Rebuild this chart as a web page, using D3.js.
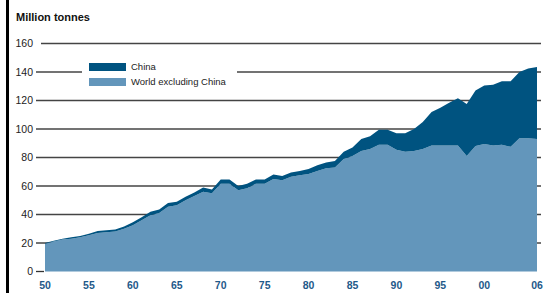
<!DOCTYPE html>
<html>
<head>
<meta charset="utf-8">
<script src="https://cdn.jsdelivr.net/npm/d3@7"></script>
<style>
  body { margin: 0; background: #fff; }
  text { font-family: "Liberation Sans", Arial, sans-serif; }
</style>
</head>
<body>
<div id="chart"></div>
<script>
// data
const years = d3.range(1950, 2007);
const world = [
  19.5, 21, 22.5, 23, 24, 25.5, 27, 27.5, 28, 30,
  32.5, 36, 39.5, 41, 45.5, 46.5, 50, 53, 56, 55,
  61.5, 61.5, 57, 58.5, 61.5, 61.5, 65, 64, 66.5, 67.5,
  68.5, 70.5, 72.5, 73, 79, 81, 84.5, 86, 89, 89,
  85.5, 84, 84.5, 86, 88.5, 88.5, 88.5, 88.5, 81, 88,
  89.5, 88.5, 89, 87.5, 93.5, 93.5, 93
];
const china = [
  0.5, 0.5, 0.5, 1, 1, 1, 1.5, 1.5, 1.5, 1.5,
  2, 2, 2.5, 2.5, 2.5, 2.5, 2.5, 2.5, 3, 2.5,
  3, 3, 3, 3, 3, 3, 3, 3, 3, 3,
  3.5, 4, 4, 4.5, 5, 6, 8.5, 9, 10.5, 10.5,
  11.5, 13, 15.5, 19, 23.5, 26.5, 30, 33, 36.5, 39,
  41, 42.5, 44.5, 46, 46.5, 49, 50.5
];
const yTicks = [0, 20, 40, 60, 80, 100, 120, 140, 160];
const xTicks = [1950, 1955, 1960, 1965, 1970, 1975, 1980, 1985, 1990, 1995, 2000, 2006];
const seriesNames = ["World excluding China", "China"];
const colors = { "China": "#005380", "World excluding China": "#6396bb" };

const W = 546, H = 293;
const svg = d3.select("#chart").append("svg")
    .attr("width", W).attr("height", H);

// left black rule
svg.append("rect").attr("x", 6).attr("y", 0).attr("width", 3).attr("height", H).attr("fill", "#000");

const x = d3.scaleLinear().domain([1950, 2006]).range([45, 537]);
const y = d3.scaleLinear().domain([0, 160]).range([271.5, 43.5]);

svg.append("text")
    .attr("x", 16).attr("y", 21)
    .style("font-size", "11px").style("font-weight", "bold")
    .attr("fill", "#111")
    .text("Million tonnes");

// gridlines (140 line broken by the legend)
const grid = svg.append("g");
yTicks.forEach(function (t) {
    if (t === 0) {
        grid.append("line").attr("x1", 36).attr("x2", 44)
            .attr("y1", y(t)).attr("y2", y(t))
            .attr("stroke", "#333").attr("stroke-width", 1.3);
    } else if (t === 140) {
        grid.append("line").attr("x1", 36).attr("x2", 82)
            .attr("y1", y(t)).attr("y2", y(t)).attr("stroke", "#444").attr("stroke-width", 1.3);
        grid.append("line").attr("x1", 237).attr("x2", 541)
            .attr("y1", y(t)).attr("y2", y(t)).attr("stroke", "#444").attr("stroke-width", 1.3);
    } else {
        grid.append("line").attr("x1", t === 160 ? 41 : 36).attr("x2", 541)
            .attr("y1", y(t)).attr("y2", y(t)).attr("stroke", "#444").attr("stroke-width", 1.3);
    }
    grid.append("text")
        .attr("x", 33).attr("y", y(t)).attr("dy", "0.36em")
        .attr("text-anchor", "end")
        .style("font-size", "10.5px")
        .attr("fill", "#222")
        .text(t);
});

// stacked areas
const data = years.map(function (yr, i) {
    return { year: yr, "World excluding China": world[i], "China": china[i] };
});
const stacked = d3.stack().keys(seriesNames)(data);
const area = d3.area()
    .x(function (d) { return x(d.data.year); })
    .y0(function (d) { return y(d[0]); })
    .y1(function (d) { return y(d[1]); });

svg.selectAll("path.layer")
    .data(stacked)
    .join("path")
    .attr("class", "layer")
    .attr("fill", function (d) { return colors[d.key]; })
    .attr("d", area);

// x labels
svg.append("g").selectAll("text")
    .data(xTicks)
    .join("text")
    .attr("x", function (d) { return x(d); })
    .attr("y", 289)
    .attr("text-anchor", "middle")
    .style("font-size", "10.5px").style("font-weight", "bold")
    .attr("fill", "#1f5a8a")
    .text(function (d) { return String(d).slice(2); });

// legend
const legend = svg.append("g");
["China", "World excluding China"].forEach(function (k, i) {
    legend.append("rect")
        .attr("x", 89).attr("y", 63 + i * 15)
        .attr("width", 37).attr("height", 8)
        .attr("fill", colors[k]);
    legend.append("text")
        .attr("x", 131).attr("y", 67 + i * 15).attr("dy", "0.35em")
        .style("font-size", "9.5px")
        .attr("fill", "#222")
        .text(k);
});
</script>
</body>
</html>
